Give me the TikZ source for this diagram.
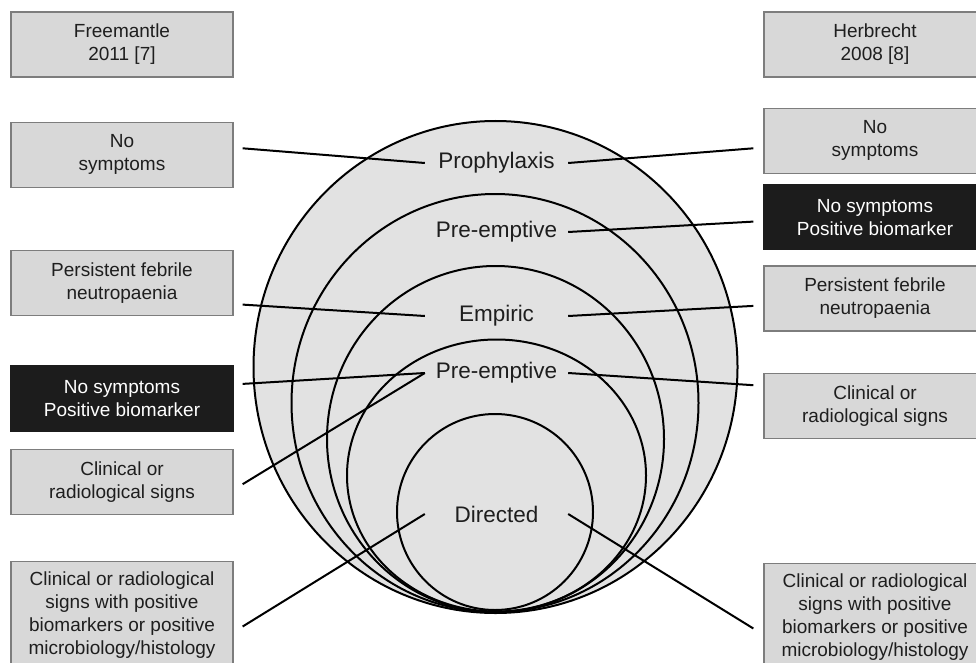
\documentclass[tikz,border=0pt]{standalone}
\usepackage{fontspec}
\setmainfont{Liberation Sans}
\usetikzlibrary{positioning}

\definecolor{boxgrey}{RGB}{216,216,216}
\definecolor{circgrey}{RGB}{226,226,226}
\definecolor{edgegrey}{RGB}{125,125,125}
\definecolor{txtgrey}{RGB}{30,30,30}
\definecolor{boxblack}{RGB}{28,28,28}

\begin{document}
\begin{tikzpicture}[x=1pt, y=-1pt,
    mybox/.style={draw=edgegrey, fill=boxgrey, line width=1.3pt, minimum width=222pt, minimum height=65pt, inner sep=0pt, align=center, text=txtgrey, font=\fontsize{19}{23}\selectfont},
    darkbox/.style={mybox, draw=boxblack, fill=boxblack, text=white},
    tallbox/.style={mybox, minimum height=107pt},
    ring/.style={line width=2pt, draw=black},
    level/.style={minimum width=143pt, inner sep=0pt, text=txtgrey, font=\fontsize{22.5}{27}\selectfont},
    link/.style={line width=2pt}]
    \path [use as bounding box, clip] (0,0) rectangle (976,663);

    % nested circles
    \fill [circgrey] (495.5,367) ellipse [x radius=242pt, y radius=246pt];
    \foreach \cx/\cy/\rx/\ry in {495.5/367/242/246, 495/403/203.5/209, 495.5/439/168.5/173, 496.5/475.5/149.5/136, 495/512/98/98}
        \draw [ring] (\cx,\cy) ellipse [x radius=\rx pt, y radius=\ry pt];

    \node [level] at (496.5,163) (prophy) {Prophylaxis};
    \node [level] at (496.5,232) (pre1) {Pre-emptive};
    \node [level] at (496.5,316) (empiric) {Empiric};
    \node [level] at (496.5,373) (pre2) {Pre-emptive};
    \node [level] at (496.5,514) (directed) {Directed};

    % left column
    \node [mybox] at (122,44.5) (lhead) {Freemantle\\2011 [7]};
    \node [mybox, below=44pt of lhead] (lnosym) {No\\symptoms};
    \node [mybox, below=62pt of lnosym] (lfeb) {Persistent febrile\\neutropaenia};
    \node [darkbox, below=49pt of lfeb] (lbio) {No symptoms\\Positive biomarker};
    \node [mybox, below=17pt of lbio] (lclin) {Clinical or\\radiological signs};
    \node [tallbox, below=46pt of lclin] (lmicro) {Clinical or radiological\\signs with positive\\biomarkers or positive\\microbiology/histology};

    % right column
    \node [mybox] at (875,44.5) (rhead) {Herbrecht\\2008 [8]};
    \node [mybox, below=30pt of rhead] (rnosym) {No\\symptoms};
    \node [darkbox, below=10pt of rnosym] (rbio) {No symptoms\\Positive biomarker};
    \node [mybox, below=15pt of rbio] (rfeb) {Persistent febrile\\neutropaenia};
    \node [mybox, below=41pt of rfeb] (rclin) {Clinical or\\radiological signs};
    \node [tallbox, below=124pt of rclin] (rmicro) {Clinical or radiological\\signs with positive\\biomarkers or positive\\microbiology/histology};

    \path [link] ([xshift=9pt, yshift=6.5pt] lnosym.east) edge (prophy.west)
    ([xshift=9pt, yshift=-21.5pt] lfeb.east) edge (empiric.west)
    ([xshift=9pt, yshift=14.5pt] lbio.east) edge (pre2.west)
    ([xshift=9pt, yshift=-2.5pt] lclin.east) edge (pre2.west)
    ([xshift=9pt, yshift=-11.5pt] lmicro.east) edge (directed.west)
    (prophy.east) edge ([xshift=-10pt, yshift=-7.5pt] rnosym.west)
    (pre1.east) edge ([xshift=-10pt, yshift=-4.5pt] rbio.west)
    (empiric.east) edge ([xshift=-10pt, yshift=-7.5pt] rfeb.west)
    (pre2.east) edge ([xshift=-10pt, yshift=20.5pt] rclin.west)
    (directed.east) edge ([xshift=-10pt, yshift=-11.5pt] rmicro.west);
\end{tikzpicture}
\end{document}
